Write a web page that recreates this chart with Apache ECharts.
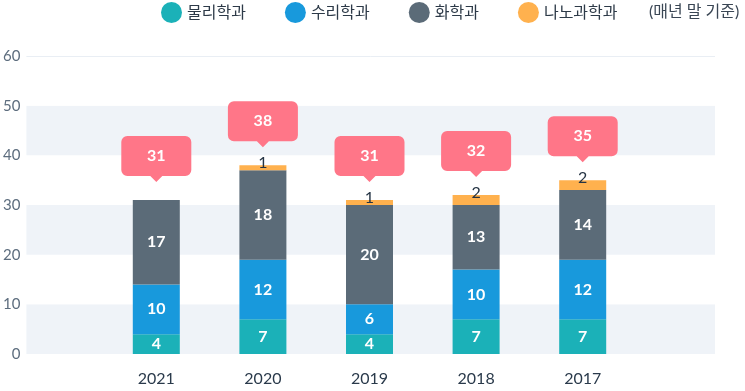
<!DOCTYPE html>
<html>
<head>
<meta charset="utf-8">
<script src="https://cdn.jsdelivr.net/npm/echarts@6/dist/echarts.min.js"></script>
<style>
html,body{margin:0;padding:0;background:#fff;}
#c{width:745px;height:391px;}
</style>
</head>
<body>
<div id="c"></div>
<script>
const years = ['2021', '2020', '2019', '2018', '2017'];
const physics = [4, 7, 4, 7, 7];
const math = [10, 12, 6, 10, 12];
const chemistry = [17, 18, 20, 13, 14];
const nano = [0, 1, 1, 2, 2];
const seriesNames = ['물리학과', '수리학과', '화학과', '나노과학과'];
const yTicks = [0, 10, 20, 30, 40, 50, 60];
const note = '(매년 말 기준)';

const totals = years.map((_, i) => physics[i] + math[i] + chemistry[i] + nano[i]);

const FONT = 'Lato, "Noto Sans CJK KR", sans-serif';
const colors = ['#1bb1b8', '#1899dc', '#5b6b78', '#ffb14e'];
const bubblePath = 'path://M6,0 H64 A6,6 0 0 1 70,6 V34 A6,6 0 0 1 64,40 H41 L35,46 L29,40 H6 A6,6 0 0 1 0,34 V6 A6,6 0 0 1 6,0 Z';

const whiteLabel = {
  show: true, position: 'inside', color: '#fff', fontSize: 16, fontWeight: 'bold', fontFamily: FONT,
  formatter: p => p.value ? String(p.value) : ''
};

function barSeries(name, data, color, label) {
  return {
    name, type: 'bar', stack: 'total', xAxisIndex: 1, yAxisIndex: 1,
    barWidth: 47, data, itemStyle: { color }, label, emphasis: { disabled: true }
  };
}

const chart = echarts.init(document.getElementById('c'), null, { renderer: 'canvas' });
chart.setOption({
  animation: false,
  textStyle: { fontFamily: FONT },
  legend: {
    data: seriesNames, left: 161, top: 2, padding: 0,
    icon: 'circle', itemWidth: 21, itemHeight: 21, itemGap: 39,
    textStyle: { fontSize: 16, color: '#2d3a48', fontFamily: FONT },
    selectedMode: false
  },
  graphic: [{
    type: 'text', left: 649, top: 4,
    style: { text: note, fontSize: 16, fill: '#3a4654', fontFamily: FONT }
  }],
  grid: [
    { left: 25, right: 30, top: 56, bottom: 37 },
    { left: 103, right: 109, top: 56, bottom: 37 }
  ],
  xAxis: [
    { type: 'value', gridIndex: 0, min: 0, max: 1, show: false },
    {
      type: 'category', gridIndex: 1, data: years,
      axisLine: { show: false }, axisTick: { show: false },
      axisLabel: { margin: 17, fontSize: 16, color: '#2a3a4b', fontFamily: FONT }
    }
  ],
  yAxis: [
    {
      type: 'value', gridIndex: 0, min: yTicks[0], max: yTicks[yTicks.length - 1], interval: 10,
      axisLine: { show: false }, axisTick: { show: false },
      splitLine: { show: false },
      splitArea: { show: true, areaStyle: { color: ['#eff3f8', '#ffffff'] } },
      axisLabel: { margin: 6, fontSize: 15, color: '#5d6d7e', fontFamily: FONT }
    },
    {
      type: 'value', gridIndex: 1, min: yTicks[0], max: yTicks[yTicks.length - 1], interval: 10,
      show: false, splitLine: { show: false }
    }
  ],
  series: [
    {
      type: 'line', xAxisIndex: 0, yAxisIndex: 0, data: [],
      markLine: {
        silent: true, symbol: 'none', label: { show: false },
        lineStyle: { color: '#e9eef4', width: 1, type: 'solid' },
        data: [{ yAxis: yTicks[yTicks.length - 1] }]
      }
    },
    barSeries(seriesNames[0], physics, colors[0], whiteLabel),
    barSeries(seriesNames[1], math, colors[1], whiteLabel),
    barSeries(seriesNames[2], chemistry, colors[2], whiteLabel),
    barSeries(seriesNames[3], nano, colors[3], {
      show: true, position: 'top', distance: 0, offset: [0, 6],
      color: '#253444', fontSize: 16, fontFamily: FONT,
      formatter: p => p.value ? String(p.value) : ''
    }),
    {
      name: 'total', type: 'scatter', xAxisIndex: 1, yAxisIndex: 1,
      data: totals, symbol: bubblePath, symbolSize: [70, 46], symbolOffset: [0, -41],
      itemStyle: { color: '#ff7688', opacity: 1 },
      label: {
        show: true, position: 'inside', offset: [0, -3],
        color: '#fff', fontSize: 16, fontWeight: 'bold', fontFamily: FONT,
        formatter: p => String(p.value)
      },
      emphasis: { disabled: true }, z: 5
    }
  ]
});
</script>
</body>
</html>
